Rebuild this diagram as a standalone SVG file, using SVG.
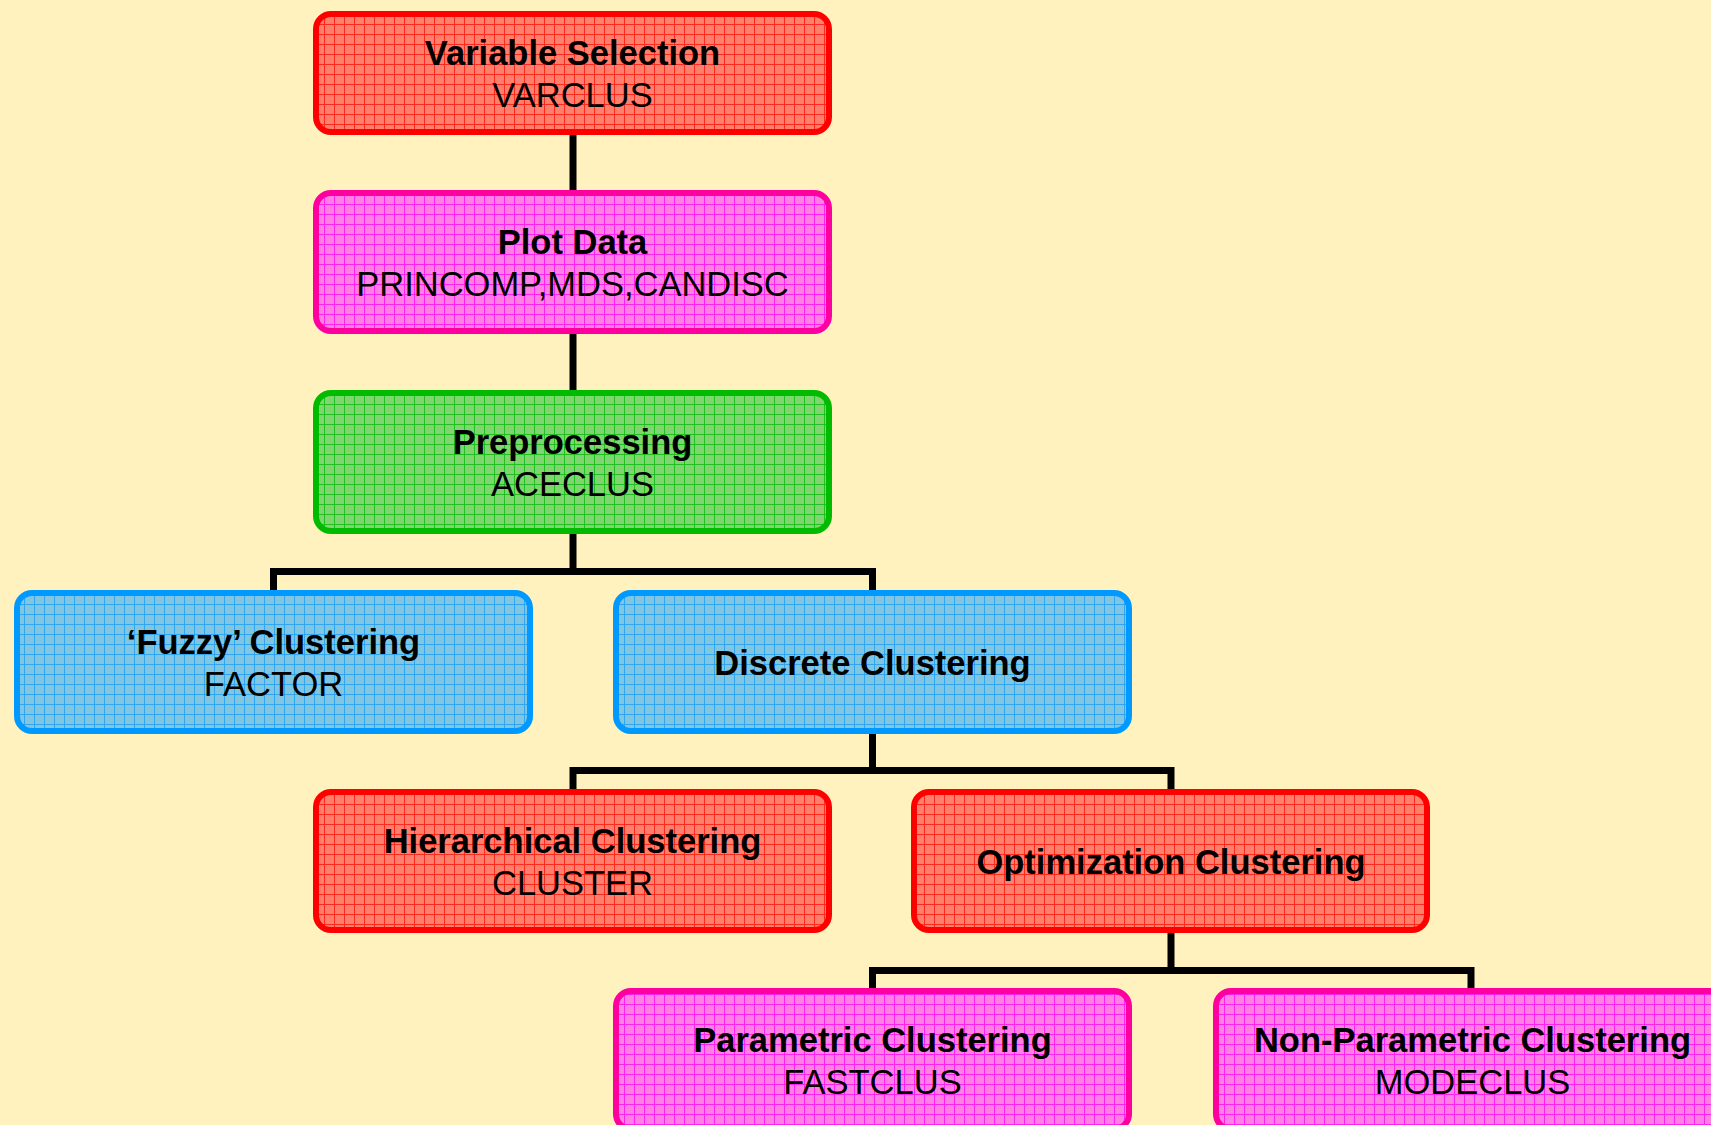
<svg xmlns="http://www.w3.org/2000/svg" width="1711" height="1125" viewBox="0 0 1711 1125">
<style>
.box{stroke-width:6}
.t{font-family:"Liberation Sans",Arial,sans-serif;font-size:34.5px;fill:#000;text-anchor:middle}
.b{font-weight:bold}
.conn{fill:none;stroke:#000;stroke-width:7;stroke-linejoin:miter;stroke-linecap:butt}
</style>
<defs>
<pattern id="pRed" width="10" height="10" patternUnits="userSpaceOnUse" x="4" y="4">
<rect width="10" height="10" fill="#FF7E6C"/>
<path d="M0,0.5H10M0.5,0V10" stroke="#FF2A1E" stroke-width="1"/>
</pattern>
<pattern id="pPink" width="10" height="10" patternUnits="userSpaceOnUse" x="4" y="4">
<rect width="10" height="10" fill="#FF7FE4"/>
<path d="M0,0.5H10M0.5,0V10" stroke="#FF22EE" stroke-width="1"/>
</pattern>
<pattern id="pGreen" width="10" height="10" patternUnits="userSpaceOnUse" x="4" y="4">
<rect width="10" height="10" fill="#80D66E"/>
<path d="M0,0.5H10M0.5,0V10" stroke="#22BF22" stroke-width="1"/>
</pattern>
<pattern id="pBlue" width="10" height="10" patternUnits="userSpaceOnUse" x="4" y="4">
<rect width="10" height="10" fill="#80C6E2"/>
<path d="M0,0.5H10M0.5,0V10" stroke="#30A6F0" stroke-width="1"/>
</pattern>
</defs>
<rect width="1711" height="1125" fill="#FFF2BF"/>
<g id="connectors">
<path class="conn" d="M573,135V190"/>
<path class="conn" d="M573,334V390"/>
<path class="conn" d="M573,534V571.5M273.5,590V571.5H872.5V590"/>
<path class="conn" d="M872.5,734V770.5M573,789V770.5H1171V789"/>
<path class="conn" d="M1171,933V970.5M872.5,988V970.5H1471V988"/>
</g>
<g id="varsel">
<rect class="box" x="316" y="14" width="513" height="118" rx="15" fill="url(#pRed)" stroke="#FF0000"/>
<text class="t b" x="572.5" y="65">Variable Selection</text>
<text class="t" x="572.5" y="107">VARCLUS</text>
</g>
<g id="plotdata">
<rect class="box" x="316" y="193" width="513" height="138" rx="15" fill="url(#pPink)" stroke="#FF00A0"/>
<text class="t b" x="572.5" y="254">Plot Data</text>
<text class="t" x="572.5" y="296">PRINCOMP,MDS,CANDISC</text>
</g>
<g id="preproc">
<rect class="box" x="316" y="393" width="513" height="138" rx="15" fill="url(#pGreen)" stroke="#00BB00"/>
<text class="t b" x="572.5" y="454">Preprocessing</text>
<text class="t" x="572.5" y="496">ACECLUS</text>
</g>
<g id="fuzzy">
<rect class="box" x="17" y="593" width="513" height="138" rx="15" fill="url(#pBlue)" stroke="#0099FF"/>
<text class="t b" x="273.5" y="654">‘Fuzzy’ Clustering</text>
<text class="t" x="273.5" y="696">FACTOR</text>
</g>
<g id="discrete">
<rect class="box" x="616" y="593" width="513" height="138" rx="15" fill="url(#pBlue)" stroke="#0099FF"/>
<text class="t b" x="872.5" y="674.5">Discrete Clustering</text>
</g>
<g id="hier">
<rect class="box" x="316" y="792" width="513" height="138" rx="15" fill="url(#pRed)" stroke="#FF0000"/>
<text class="t b" x="572.5" y="853">Hierarchical Clustering</text>
<text class="t" x="572.5" y="895">CLUSTER</text>
</g>
<g id="optim">
<rect class="box" x="914" y="792" width="513" height="138" rx="15" fill="url(#pRed)" stroke="#FF0000"/>
<text class="t b" x="1171" y="873.5">Optimization Clustering</text>
</g>
<g id="param">
<rect class="box" x="616" y="991" width="513" height="138" rx="15" fill="url(#pPink)" stroke="#FF00A0"/>
<text class="t b" x="872.5" y="1052">Parametric Clustering</text>
<text class="t" x="872.5" y="1094">FASTCLUS</text>
</g>
<g id="nonparam">
<rect class="box" x="1216" y="991" width="513" height="138" rx="15" fill="url(#pPink)" stroke="#FF00A0"/>
<text class="t b" x="1472.5" y="1052">Non-Parametric Clustering</text>
<text class="t" x="1472.5" y="1094">MODECLUS</text>
</g>
</svg>
